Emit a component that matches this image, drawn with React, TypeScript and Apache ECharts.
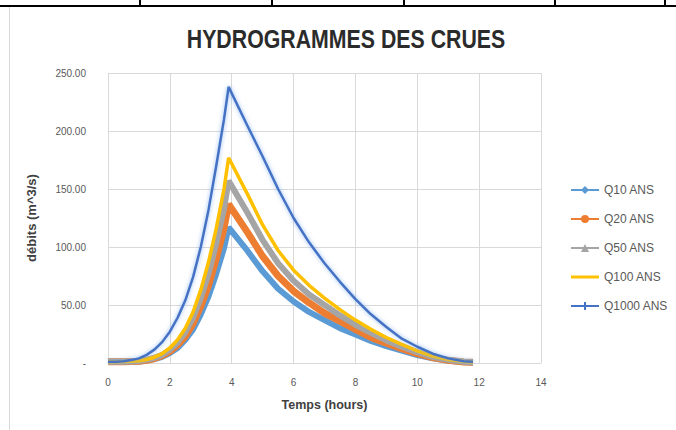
import React, { useEffect, useRef } from "react";
import * as echarts from "echarts";

const TITLE = "HYDROGRAMMES DES CRUES";
const X_NAME = "Temps (hours)";
const Y_NAME = "débits (m^3/s)";

const seriesNames = ["Q10 ANS", "Q20 ANS", "Q50 ANS", "Q100 ANS", "Q1000 ANS"];
const seriesColors = ["#5B9BD5", "#ED7D31", "#A5A5A5", "#FFC000", "#4472C4"];

// time in hours
const times = [
  0, 0.25, 0.5, 0.75, 1, 1.25, 1.5, 1.75, 2, 2.25, 2.5, 2.75, 3, 3.25, 3.5, 3.75, 3.9,
  4.5, 5, 5.5, 6, 6.5, 7, 7.5, 8, 8.5, 9, 9.5, 10, 10.5, 11, 11.5, 11.8,
];

const q10 = [
  1, 1, 1, 1, 1.3, 2, 3.3, 5.3, 8.6, 13, 20, 29, 42, 57.5, 77, 99, 117,
  97, 79, 64, 53, 44, 37, 30, 24.5, 19, 14.5, 10.6, 6.9, 4, 2, 0.8, 0.5,
];
const q20 = [
  1, 1, 1, 1.2, 1.5, 2.3, 3.9, 6.2, 10, 15.5, 23, 34, 49, 67, 90, 116, 137,
  113, 92, 75, 62, 52, 43, 36, 29, 22, 17, 12.4, 8.1, 4.6, 2.3, 0.9, 0.6,
];
const q50 = [
  1, 1, 1.1, 1.3, 1.8, 2.7, 4.4, 7, 11.5, 17.7, 26.6, 39, 56, 77, 103, 133, 157,
  130, 106, 86, 71, 59, 50, 41, 33, 26, 19.5, 14, 9.3, 5.3, 2.7, 1.1, 0.7,
];
const q100 = [
  1, 1, 1.2, 1.5, 2, 3, 5, 8, 13, 20, 30, 44, 63, 87, 116, 150, 177,
  146, 119, 97, 80, 67, 56, 46, 37, 29, 22, 16, 10.5, 6, 3, 1.2, 0.8,
];
const q1000 = [
  1, 1, 1.5, 2.5, 4, 7, 11.5, 18, 27, 39, 54, 74, 100, 132, 170, 210, 238,
  205, 178, 150, 125, 104, 86, 70, 55, 42, 31, 21, 14, 8, 4, 1.5, 1,
];

const allValues = [q10, q20, q50, q100, q1000];
const lineWidths = [6, 7, 6, 3.5, 2.5];

const legendIcons = [
  "path://M0,3H28V5H0Z M14,0L18,4L14,8L10,4Z",
  "path://M0,3H28V5H0Z M10,4A4,4 0 1 1 18,4A4,4 0 1 1 10,4Z",
  "path://M0,3H28V5H0Z M14,0L18,8H10Z",
  "path://M0,2.5H28V5.5H0Z",
  "path://M0,3H28V5H0Z M13,0H15V8H13Z M10,3H18V5H10Z",
];

const tableDividers = [140, 272, 404, 555, 665];

export default function App() {
  const ref = useRef<HTMLDivElement>(null);

  useEffect(() => {
    if (!ref.current) return;
    const chart = echarts.init(ref.current, undefined, { renderer: "svg" });

    const series = allValues.map((vals, i) => ({
      name: seriesNames[i],
      type: "line",
      data: times.map((t, k) => [t, vals[k]]),
      showSymbol: false,
      color: seriesColors[i],
      lineStyle: {
        color: seriesColors[i],
        width: lineWidths[i],
        ...(i === 4 ? { shadowColor: "rgba(120,170,240,0.8)", shadowBlur: 4 } : {}),
      },
      emphasis: { disabled: true },
      z: 2 + i,
    }));

    const graphic: any[] = [
      {
        type: "line",
        shape: { x1: 0, y1: 6, x2: 676, y2: 6 },
        style: { stroke: "#000", lineWidth: 2 },
      },
      ...tableDividers.map((x) => ({
        type: "line",
        shape: { x1: x, y1: 0, x2: x, y2: 7 },
        style: { stroke: "#000", lineWidth: 2 },
      })),
      {
        type: "line",
        shape: { x1: 9.5, y1: 7, x2: 9.5, y2: 430 },
        style: { stroke: "#d9d9d9", lineWidth: 1 },
      },
      {
        type: "text",
        x: 346,
        y: 39,
        scaleX: 0.82,
        style: {
          text: TITLE,
          fill: "#2b2b2b",
          font: "bold 26px 'Liberation Sans', Arial, sans-serif",
          textAlign: "center",
          textVerticalAlign: "middle",
        },
      },
    ];

    chart.setOption({
      animation: false,
      backgroundColor: "#ffffff",
      textStyle: { fontFamily: "'Liberation Sans', Arial, sans-serif" },
      graphic,
      grid: { left: 108, right: 135, top: 73, bottom: 67, containLabel: false },
      legend: {
        orient: "vertical",
        left: 566,
        top: 179,
        itemWidth: 28,
        itemHeight: 12,
        itemGap: 17,
        textStyle: { fontSize: 12, color: "#595959" },
        data: seriesNames.map((n, i) => ({ name: n, icon: legendIcons[i] })),
      },
      xAxis: {
        type: "value",
        min: 0,
        max: 14,
        interval: 2,
        name: X_NAME,
        nameLocation: "middle",
        nameGap: 35,
        nameTextStyle: { fontSize: 12.5, fontWeight: "bold", color: "#404040" },
        axisLine: { show: true, lineStyle: { color: "#d9d9d9" } },
        axisTick: { show: false },
        axisLabel: { color: "#595959", fontSize: 10, margin: 14 },
        splitLine: { show: true, lineStyle: { color: "#d9d9d9" } },
      },
      yAxis: {
        type: "value",
        min: 0,
        max: 250,
        interval: 50,
        name: Y_NAME,
        nameLocation: "middle",
        nameGap: 70,
        nameRotate: 90,
        nameTextStyle: { fontSize: 13, fontWeight: "bold", color: "#404040" },
        axisLine: { show: false },
        axisTick: { show: false },
        axisLabel: {
          color: "#595959",
          fontSize: 10,
          margin: 22,
          formatter: (v: number) => (v === 0 ? "-" : v.toFixed(2)),
        },
        splitLine: { show: true, lineStyle: { color: "#d9d9d9" } },
      },
      series,
    });

    return () => {
      chart.dispose();
    };
  }, []);

  return (
    <div
      ref={ref}
      style={{ position: "fixed", left: 0, top: 0, width: 676, height: 430, background: "#fff" }}
    />
  );
}
